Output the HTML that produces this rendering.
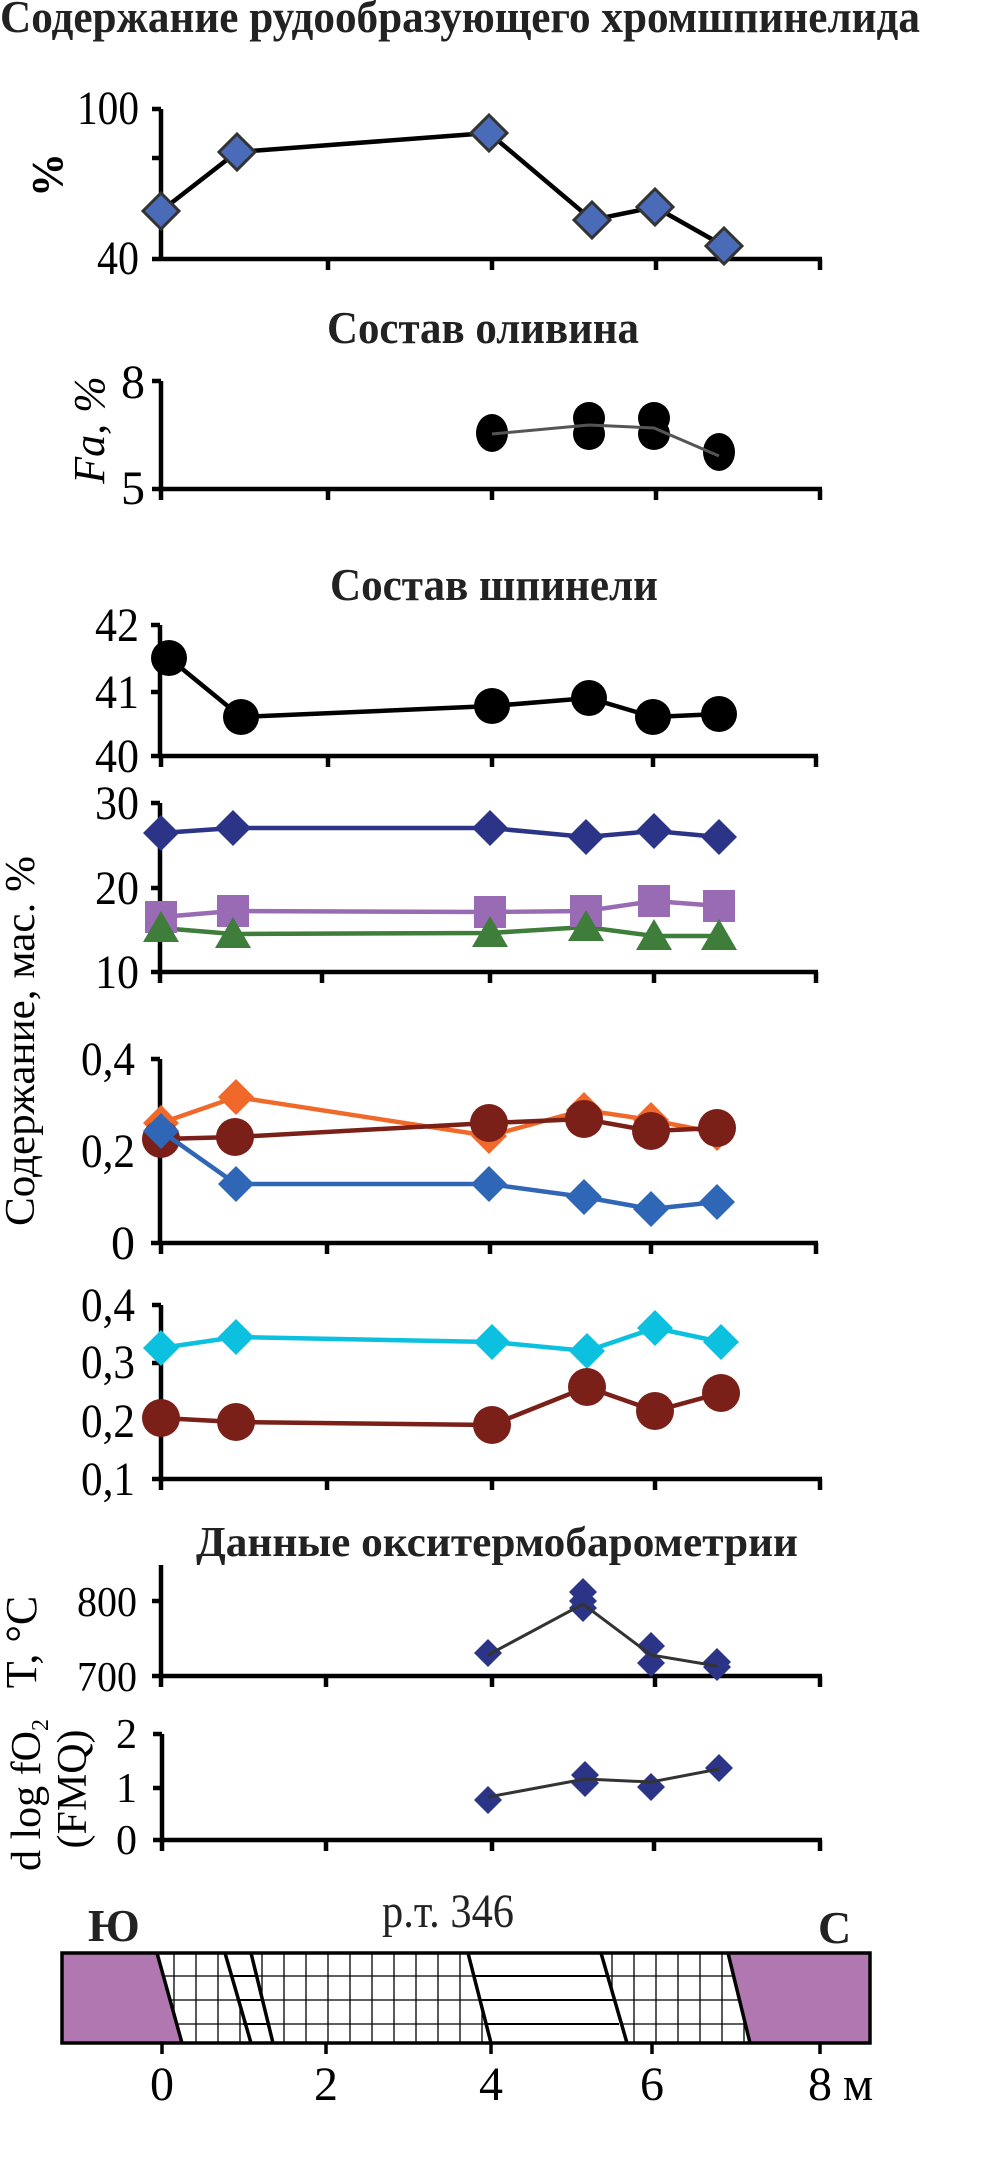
<!DOCTYPE html>
<html><head><meta charset="utf-8"><style>html,body{margin:0;padding:0;background:#fff}svg{display:block}</style></head>
<body>
<svg width="1004" height="2173" viewBox="0 0 1004 2173" xmlns="http://www.w3.org/2000/svg" font-family="'Liberation Serif','DejaVu Serif',serif">
<defs>
<path id="dL" d="M0,-18 L18,0 L0,18 L-18,0 Z"/>
<path id="dM" d="M0,-18 L18,0 L0,18 L-18,0 Z"/>
<path id="dS" d="M0,-14 L14,0 L0,14 L-14,0 Z"/>
<path id="sq" d="M-16,-16 H16 V16 H-16 Z"/>
<path id="tr" d="M0,-17 L18,14 L-18,14 Z"/>
</defs>

<!-- Titles -->
<g font-weight="bold" fill="#222" font-size="46">
<text x="0" y="32" textLength="920" lengthAdjust="spacingAndGlyphs">Содержание рудообразующего хромшпинелида</text>
<text x="327" y="343" textLength="312" lengthAdjust="spacingAndGlyphs">Состав оливина</text>
<text x="330" y="600" textLength="328" lengthAdjust="spacingAndGlyphs">Состав шпинели</text>
<text x="196" y="1556" font-size="42" textLength="602" lengthAdjust="spacingAndGlyphs">Данные окситермобарометрии</text>
</g>

<g stroke="#000" stroke-width="4.5" fill="none">
<path d="M161,109 V261 M161,259 H822 M152,109 H161 M152,158 H161 M152,259 H161 M328,259 v11 M492,259 v11 M656,259 v11 M820,259 v11"/>
<path d="M161,381 V491 M161,489 H822 M152,381 H161 M152,489 H161 M161,489 v11 M328,489 v11 M492,489 v11 M656,489 v11 M820,489 v11"/>
<path d="M160,625 V758 M160,756 H818 M151,625 H160 M151,692 H160 M151,756 H160 M161,756 v11 M328,756 v11 M492,756 v11 M653,756 v11 M816,756 v11"/>
<path d="M160,803 V974 M160,972 H818 M151,803 H160 M151,888 H160 M151,972 H160 M160,972 v11 M322,972 v11 M490,972 v11 M654,972 v11 M816,972 v11"/>
<path d="M160,1059 V1245 M160,1243 H818 M151,1059 H160 M151,1151 H160 M151,1243 H160 M161,1243 v11 M327,1243 v11 M490,1243 v11 M651,1243 v11 M816,1243 v11"/>
<path d="M161,1305 V1481 M161,1479 H822 M152,1305 H161 M152,1363 H161 M152,1421 H161 M152,1479 H161 M161,1479 v11 M327,1479 v11 M492,1479 v11 M655,1479 v11 M820,1479 v11"/>
<path d="M161,1565 V1678 M161,1676 H822 M152,1601 H161 M152,1676 H161 M161,1676 v11 M326,1676 v11 M492,1676 v11 M655,1676 v11 M820,1676 v11"/>
<path d="M162,1734 V1842 M162,1840 H822 M153,1734 H162 M153,1788 H162 M153,1840 H162 M162,1840 v11 M326,1840 v11 M492,1840 v11 M654,1840 v11 M820,1840 v11"/>
</g>

<!-- tick labels -->
<g font-size="48" fill="#000" text-anchor="end" lengthAdjust="spacingAndGlyphs">
<text x="139" y="124" textLength="62" lengthAdjust="spacingAndGlyphs">100</text>
<text x="139" y="274" textLength="42" lengthAdjust="spacingAndGlyphs">40</text>
<text x="145" y="398">8</text>
<text x="145" y="504">5</text>
<text x="139" y="641" textLength="44" lengthAdjust="spacingAndGlyphs">42</text>
<text x="139" y="708" textLength="44" lengthAdjust="spacingAndGlyphs">41</text>
<text x="139" y="772" textLength="44" lengthAdjust="spacingAndGlyphs">40</text>
<text x="139" y="819" textLength="44" lengthAdjust="spacingAndGlyphs">30</text>
<text x="139" y="904" textLength="44" lengthAdjust="spacingAndGlyphs">20</text>
<text x="139" y="988" textLength="44" lengthAdjust="spacingAndGlyphs">10</text>
<text x="135" y="1075" textLength="54" lengthAdjust="spacingAndGlyphs">0,4</text>
<text x="135" y="1167" textLength="54" lengthAdjust="spacingAndGlyphs">0,2</text>
<text x="135" y="1259">0</text>
<text x="135" y="1321" textLength="54" lengthAdjust="spacingAndGlyphs">0,4</text>
<text x="135" y="1378" textLength="54" lengthAdjust="spacingAndGlyphs">0,3</text>
<text x="135" y="1437" textLength="54" lengthAdjust="spacingAndGlyphs">0,2</text>
<text x="135" y="1495" textLength="54" lengthAdjust="spacingAndGlyphs">0,1</text>
</g>
<g font-size="42" fill="#000" text-anchor="end">
<text x="137" y="1616" textLength="60" lengthAdjust="spacingAndGlyphs">800</text>
<text x="137" y="1691" textLength="60" lengthAdjust="spacingAndGlyphs">700</text>
<text x="137" y="1748">2</text>
<text x="137" y="1802">1</text>
<text x="137" y="1854">0</text>
</g>

<!-- axis titles -->
<g fill="#000">
<text transform="translate(62,175) rotate(-90)" font-size="44" font-weight="bold" text-anchor="middle">%</text>
<text transform="translate(104,430) rotate(-90)" font-size="44" font-style="italic" text-anchor="middle">Fa, %</text>
<text transform="translate(34,1041) rotate(-90)" font-size="42" text-anchor="middle" textLength="370" lengthAdjust="spacingAndGlyphs">Содержание, мас. %</text>
<text transform="translate(36,1642) rotate(-90)" font-size="44" text-anchor="middle">T, °C</text>
<text transform="translate(40,1795) rotate(-90)" font-size="42" text-anchor="middle">d log fO<tspan font-size="24" dy="8">2</tspan></text>
<text transform="translate(86,1789) rotate(-90)" font-size="42" text-anchor="middle">(FMQ)</text>
</g>

<!-- plot1 data -->
<polyline points="161,211 237,152 489,133 592,220 655,207 724,246" fill="none" stroke="#000" stroke-width="4.5"/>
<g fill="#4a6cb8" stroke="#333" stroke-width="3">
<use href="#dL" x="161" y="211"/><use href="#dL" x="237" y="152"/><use href="#dL" x="489" y="133"/>
<use href="#dL" x="592" y="220"/><use href="#dL" x="655" y="207"/><use href="#dL" x="724" y="246"/>
</g>

<!-- plot2 -->
<g fill="#000">
<ellipse cx="492" cy="433" rx="16" ry="19"/>
<circle cx="589" cy="418" r="16"/><circle cx="589" cy="434" r="16"/>
<circle cx="654" cy="418" r="16"/><circle cx="654" cy="434" r="16"/>
<ellipse cx="719" cy="452" rx="16" ry="19"/>
</g>
<polyline points="492,434 589,425 654,428 719,456" fill="none" stroke="#555" stroke-width="3"/>

<!-- plot3a -->
<polyline points="169,658 241,717 492,706 589,698 653,717 719,714" fill="none" stroke="#000" stroke-width="4.5"/>
<g fill="#000">
<circle cx="169" cy="658" r="18"/><circle cx="241" cy="717" r="18"/><circle cx="492" cy="706" r="18"/>
<circle cx="589" cy="698" r="18"/><circle cx="653" cy="717" r="18"/><circle cx="719" cy="714" r="18"/>
</g>

<!-- plot3b -->
<polyline points="161,833 233,828 490,828 586,837 654,831 719,837" fill="none" stroke="#2b3486" stroke-width="4.5"/>
<g fill="#2b3486">
<use href="#dM" x="161" y="833"/><use href="#dM" x="233" y="828"/><use href="#dM" x="490" y="828"/>
<use href="#dM" x="586" y="837"/><use href="#dM" x="654" y="831"/><use href="#dM" x="719" y="837"/>
</g>
<polyline points="161,917 233,911 490,912 586,911 654,901 719,906" fill="none" stroke="#9a6bb5" stroke-width="4.5"/>
<polyline points="161,928 233,934 490,933 586,927 654,936 719,936" fill="none" stroke="#3e7d3a" stroke-width="4.5"/>
<g fill="#9a6bb5">
<use href="#sq" x="161" y="917"/><use href="#sq" x="233" y="911"/><use href="#sq" x="490" y="912"/>
<use href="#sq" x="586" y="911"/><use href="#sq" x="654" y="901"/><use href="#sq" x="719" y="906"/>
</g>
<g fill="#3e7d3a">
<use href="#tr" x="161" y="928"/><use href="#tr" x="233" y="934"/><use href="#tr" x="490" y="933"/>
<use href="#tr" x="586" y="927"/><use href="#tr" x="654" y="936"/><use href="#tr" x="719" y="936"/>
</g>

<!-- plot4 -->
<polyline points="161,1123 236,1097 489,1136 584,1110 651,1120 717,1133" fill="none" stroke="#f0692a" stroke-width="4.5"/>
<g fill="#f0692a">
<use href="#dM" x="161" y="1123"/><use href="#dM" x="236" y="1097"/><use href="#dM" x="489" y="1136"/>
<use href="#dM" x="584" y="1110"/><use href="#dM" x="651" y="1120"/><use href="#dM" x="717" y="1133"/>
</g>
<polyline points="161,1139 235,1137 489,1123 584,1119 651,1131 717,1128" fill="none" stroke="#7a2018" stroke-width="4.5"/>
<g fill="#7a2018">
<circle cx="161" cy="1139" r="19"/><circle cx="235" cy="1137" r="19"/><circle cx="489" cy="1123" r="19"/>
<circle cx="584" cy="1119" r="19"/><circle cx="651" cy="1131" r="19"/><circle cx="717" cy="1128" r="19"/>
</g>
<polyline points="161,1131 236,1184 489,1184 584,1197 651,1209 717,1202" fill="none" stroke="#2f66b5" stroke-width="4.5"/>
<g fill="#2f66b5">
<use href="#dM" x="161" y="1131"/><use href="#dM" x="236" y="1184"/><use href="#dM" x="489" y="1184"/>
<use href="#dM" x="584" y="1197"/><use href="#dM" x="651" y="1209"/><use href="#dM" x="717" y="1202"/>
</g>

<!-- plot5 -->
<polyline points="161,1348 236,1337 492,1342 587,1351 655,1328 721,1342" fill="none" stroke="#0cc0e0" stroke-width="4.5"/>
<g fill="#0cc0e0">
<use href="#dM" x="161" y="1348"/><use href="#dM" x="236" y="1337"/><use href="#dM" x="492" y="1342"/>
<use href="#dM" x="587" y="1351"/><use href="#dM" x="655" y="1328"/><use href="#dM" x="721" y="1342"/>
</g>
<polyline points="161,1418 236,1422 492,1425 587,1387 655,1411 721,1393" fill="none" stroke="#7a2018" stroke-width="4.5"/>
<g fill="#7a2018">
<circle cx="161" cy="1418" r="19"/><circle cx="236" cy="1422" r="19"/><circle cx="492" cy="1425" r="19"/>
<circle cx="587" cy="1387" r="19"/><circle cx="655" cy="1411" r="19"/><circle cx="721" cy="1393" r="19"/>
</g>

<!-- plot6 -->
<g fill="#2b3486">
<use href="#dS" x="488" y="1653"/><use href="#dS" x="583" y="1592"/><use href="#dS" x="583" y="1601"/><use href="#dS" x="583" y="1608"/>
<use href="#dS" x="651" y="1646"/><use href="#dS" x="651" y="1663"/><use href="#dS" x="717" y="1662"/><use href="#dS" x="717" y="1667"/>
</g>
<polyline points="488,1655 583,1604 651,1655 717,1666" fill="none" stroke="#333" stroke-width="3"/>

<!-- plot7 -->
<g fill="#2b3486">
<use href="#dS" x="488" y="1800"/><use href="#dS" x="585" y="1775"/><use href="#dS" x="585" y="1783"/>
<use href="#dS" x="651" y="1787"/><use href="#dS" x="719" y="1768"/>
</g>
<polyline points="488,1797 585,1779 651,1782 719,1769" fill="none" stroke="#333" stroke-width="3"/>

<!-- cross-section -->
<g>
<rect x="62" y="1953" width="808" height="90" fill="#fff"/>
<g stroke="#000" stroke-width="1.3">
<path d="M174,1953V2043 M196,1953V2043 M218,1953V2043 M240,1953V2043 M262,1953V2043 M284,1953V2043 M306,1953V2043 M328,1953V2043 M350,1953V2043 M372,1953V2043 M394,1953V2043 M416,1953V2043 M438,1953V2043 M460,1953V2043 M482,1953V2043
M612,1953V2043 M634,1953V2043 M656,1953V2043 M678,1953V2043 M700,1953V2043 M722,1953V2043 M744,1953V2043
M62,1976H870 M62,2000H870 M62,2024H870"/>
</g>
<polygon points="225,1953 251,1953 273,2043 251,2043" fill="#fff"/>
<polygon points="468,1953 601,1953 627,2043 491,2043" fill="#fff"/>
<g stroke="#000" stroke-width="2">
<path d="M231,1976H257 M237,2000H263 M243,2024H268 M474,1976H607 M480,2000H613 M486,2024H619"/>
</g>
<polygon points="62,1953 157,1953 182,2043 62,2043" fill="#b077b0"/>
<polygon points="728,1953 870,1953 870,2043 750,2043" fill="#b077b0"/>
<g stroke="#000" stroke-width="3.5" fill="none">
<path d="M157,1953L182,2043 M225,1953L251,2043 M251,1953L273,2043 M468,1953L491,2043 M601,1953L627,2043 M728,1953L750,2043"/>
<rect x="62" y="1953" width="808" height="90"/>
<path d="M162,2043v11 M326,2043v11 M491,2043v11 M652,2043v11 M820,2043v11"/>
</g>
<g font-size="48" fill="#000" text-anchor="middle">
<text x="162" y="2100">0</text>
<text x="326" y="2100">2</text>
<text x="491" y="2100">4</text>
<text x="652" y="2100">6</text>
<text x="820" y="2100">8</text>
<text x="858" y="2100">м</text>
<text x="448" y="1927" fill="#222" textLength="132" lengthAdjust="spacingAndGlyphs">р.т. 346</text>
</g>
<g font-size="46" font-weight="bold" fill="#222">
<text x="88" y="1941">Ю</text>
<text x="818" y="1943">С</text>
</g>
</g>
</svg>
</body></html>
